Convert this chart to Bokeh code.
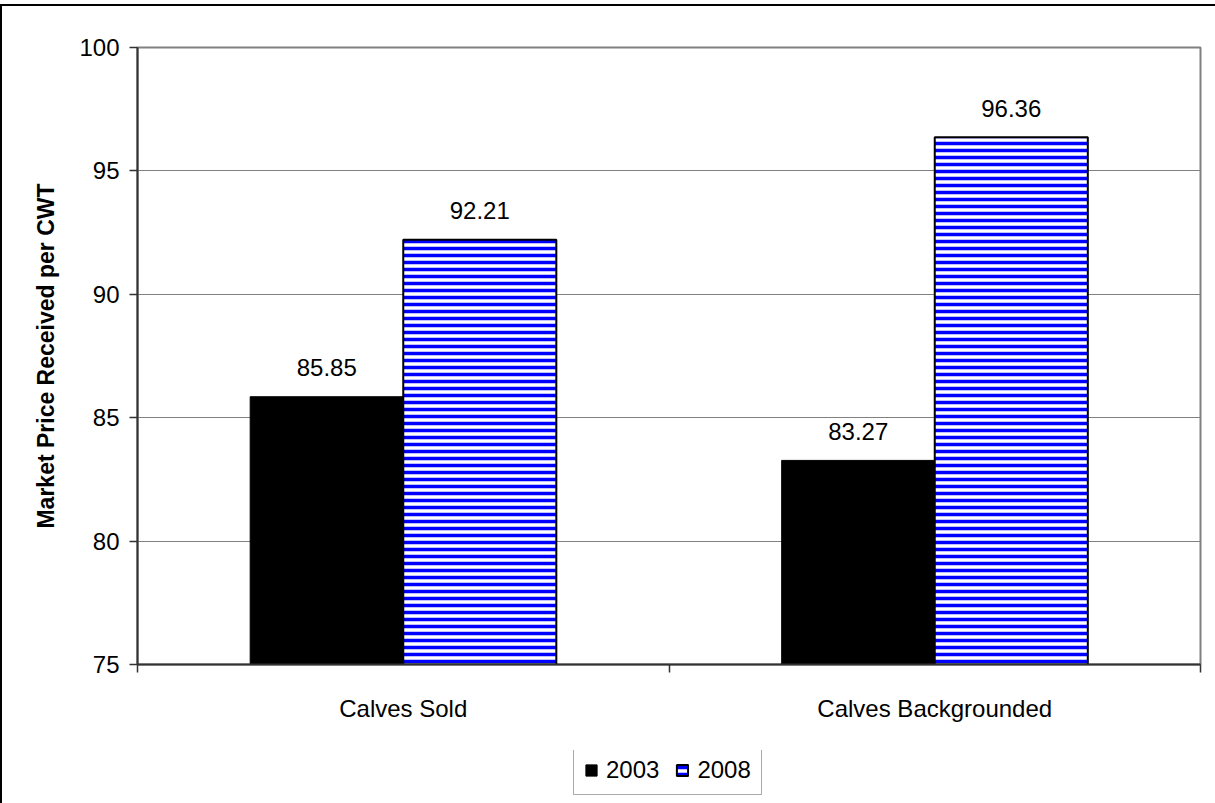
import numpy as np
from bokeh.plotting import figure
from bokeh.layouts import column
from bokeh.models import Range1d, FixedTicker, Legend, LegendItem, ColumnDataSource
from bokeh.core.properties import value
from bokeh.embed import file_html
from bokeh.resources import INLINE

categories = ["Calves Sold", "Calves Backgrounded"]
years = ["2003", "2008"]
values_2003 = [85.85, 83.27]
values_2008 = [92.21, 96.36]
y_ticks = [75, 80, 85, 90, 95, 100]
y_label = "Market Price Received per CWT"

FONT = "Liberation Sans"
n = len(categories)
bar_w = 0.288
centers = [i + 0.5 for i in range(n)]

BLACK_STYLE = dict(fill_color="black", line_color="black", line_width=1)
HATCH_STYLE = dict(fill_color="white", hatch_pattern="horizontal_line", hatch_color="#0000ff",
                   hatch_scale=7, hatch_weight=3.5, line_color="black", line_width=2)

p = figure(width=1213, height=744, x_range=Range1d(0, n), y_range=Range1d(y_ticks[0], y_ticks[-1]),
           output_backend="svg", toolbar_location=None,
           min_border_left=135, min_border_right=15, min_border_top=41, min_border_bottom=86)

src1 = ColumnDataSource(dict(x=[c - bar_w / 2 for c in centers], top=values_2003,
                             label=[f"{v:.2f}" for v in values_2003]))
src2 = ColumnDataSource(dict(x=[c + bar_w / 2 for c in centers], top=values_2008,
                             label=[f"{v:.2f}" for v in values_2008]))

p.vbar(x="x", top="top", bottom=y_ticks[0], width=bar_w, source=src1, **BLACK_STYLE)
p.vbar(x="x", top="top", bottom=y_ticks[0], width=bar_w, source=src2, **HATCH_STYLE)

for src in (src1, src2):
    p.text(x="x", y="top", text="label", source=src, text_align="center",
           text_baseline="alphabetic", y_offset=-29, text_font=value(FONT),
           text_font_size="24px", text_color="black")

# x axis
p.xaxis.ticker = FixedTicker(ticks=centers, minor_ticks=list(range(n + 1)))
p.xaxis.major_label_overrides = {c: cat for c, cat in zip(centers, categories)}
p.xaxis.major_tick_line_color = None
p.xaxis.major_tick_out = 0
p.xaxis.major_tick_in = 0
p.xaxis.minor_tick_out = 8
p.xaxis.minor_tick_in = 0
p.xaxis.minor_tick_line_color = "#333333"
p.xaxis.minor_tick_line_width = 1.5
p.xaxis.major_label_standoff = 22
p.xaxis.major_label_text_font = FONT
p.xaxis.major_label_text_font_size = "24px"
p.xaxis.major_label_text_color = "black"
p.xaxis.axis_line_color = "#333333"
p.xaxis.axis_line_width = 2

# y axis
p.yaxis.ticker = FixedTicker(ticks=y_ticks, minor_ticks=[])
p.yaxis.major_tick_in = 0
p.yaxis.major_tick_out = 8
p.yaxis.major_tick_line_color = "#333333"
p.yaxis.major_tick_line_width = 1.5
p.yaxis.major_label_standoff = 10
p.yaxis.major_label_text_font = FONT
p.yaxis.major_label_text_font_size = "24px"
p.yaxis.major_label_text_color = "black"
p.yaxis.axis_line_color = "#333333"
p.yaxis.axis_line_width = 2
p.yaxis.axis_label = y_label
p.yaxis.axis_label_text_font = FONT
p.yaxis.axis_label_text_font_size = "23px"
p.yaxis.axis_label_text_font_style = "bold"
p.yaxis.axis_label_text_color = "black"
p.yaxis.axis_label_standoff = 17

p.xgrid.visible = False
p.ygrid.grid_line_color = "#808080"
p.ygrid.grid_line_width = 1
p.outline_line_color = "#808080"
p.outline_line_width = 2

# legend strip below the chart: legend-only renderers with no drawable values
lf = figure(width=1213, height=53, x_range=Range1d(0, n), y_range=Range1d(0, 1),
            output_backend="svg", toolbar_location=None, x_axis_type=None, y_axis_type=None,
            min_border=0)
lf.outline_line_color = None
lf.xgrid.visible = False
lf.ygrid.visible = False
blank = ColumnDataSource(dict(x=np.array([np.nan]), top=np.array([np.nan])))
l1 = lf.vbar(x="x", top="top", bottom=0, width=bar_w, source=blank, **BLACK_STYLE)
l2 = lf.vbar(x="x", top="top", bottom=0, width=bar_w, source=blank, **HATCH_STYLE)

legend = Legend(items=[LegendItem(label=years[0], renderers=[l1]),
                       LegendItem(label=years[1], renderers=[l2])],
                orientation="horizontal", location=(436, 8))
legend.label_text_font = FONT
legend.label_text_font_size = "24px"
legend.label_text_color = "black"
legend.glyph_width = 14
legend.glyph_height = 14
legend.label_standoff = 8
legend.spacing = 16
legend.padding = 10
legend.margin = 0
legend.border_line_color = "#555555"
legend.border_line_width = 1
legend.background_fill_color = "white"
lf.add_layout(legend)

layout = column(p, lf, spacing=0)
layout.styles = {"border-left": "2px solid black", "border-top": "2px solid black", "margin-top": "4px"}

open("out.html", "w").write(file_html(layout, INLINE))
